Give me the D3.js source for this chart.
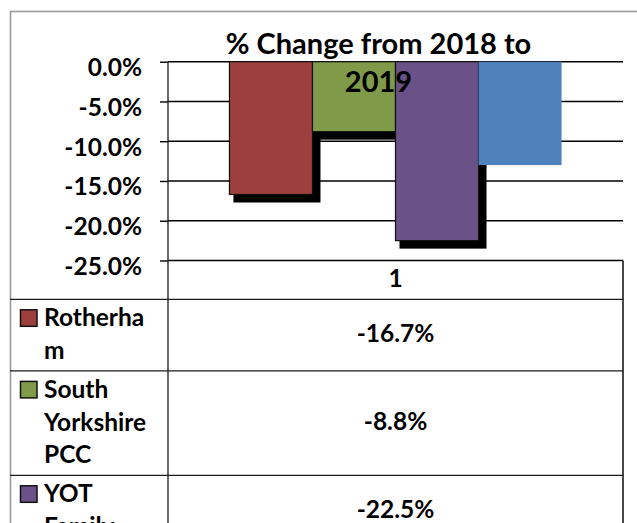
<!DOCTYPE html>
<html><head><meta charset="utf-8">
<script src="https://cdn.jsdelivr.net/npm/d3@7"></script>
<style>
html,body{margin:0;padding:0;background:#fff;overflow:hidden}
text{font-family:Lato,"Open Sans",sans-serif;font-weight:bold;fill:#000}
</style></head>
<body><svg id="c" width="637" height="523"></svg>
<script>
// ---- data ----
const categories = ["1"];
const seriesNames = ["Rotherham", "South Yorkshire PCC", "YOT Family", "National"];
const seriesLabelLines = [["Rotherha", "m"], ["South", "Yorkshire", "PCC"], ["YOT", "Family"], ["National"]];
const seriesValues = [-16.7, -8.8, -22.5, -13.0];
const seriesColors = ["#9D403D", "#7F9A48", "#6A5188", "#4F81BD"];
const yTicks = [0, -5, -10, -15, -20, -25];
const titleLines = ["% Change from 2018 to", "2019"];

const svg = d3.select("#c");
const plotL = 168, plotR = 623, plotT = 61.7, plotB = 260.5;
const fs = 24.5;

const y = d3.scaleLinear().domain([-25, 0]).range([plotB, plotT]);
const xCat = d3.scaleBand().domain(categories).range([plotL, plotR]);
const xSer = d3.scaleBand().domain(seriesNames).range([0, xCat.bandwidth()]).paddingInner(0).paddingOuter(0.74);

// outer border
svg.append("rect").attr("x", 10.5).attr("y", 11.5).attr("width", 660).attr("height", 600)
  .attr("fill", "none").attr("stroke", "#9a9a9a").attr("stroke-width", 1.6);

// gridlines
svg.append("g").selectAll("line").data(yTicks).join("line")
  .attr("x1", plotL).attr("x2", plotR)
  .attr("y1", d => y(d)).attr("y2", d => y(d))
  .attr("stroke", "#000").attr("stroke-width", 1.4);

// y axis
const yAxis = d3.axisLeft(y).tickValues(yTicks).tickSize(8).tickPadding(18)
  .tickFormat(d => d.toFixed(1) + "%");
const ga = svg.append("g").attr("transform", `translate(${plotL},0)`).call(yAxis);
ga.select(".domain").remove();
ga.selectAll(".tick line").attr("stroke", "#000").attr("stroke-width", 1.4);
ga.selectAll(".tick text").attr("font-family", "Lato").attr("font-weight", "bold")
  .attr("font-size", fs).attr("dy", 0).attr("y", 14).attr("fill", "#000");

// bars
const data = seriesNames.map((s, i) => ({ s, v: seriesValues[i], c: seriesColors[i], i }));
const gb = svg.append("g");
data.forEach(d => {
  const bx = xCat(categories[0]) + xSer(d.s);
  const bw = xSer.bandwidth();
  const y0 = y(0), y1 = y(d.v);
  if (d.i < seriesNames.length - 1) {
    gb.append("rect").attr("x", bx + 4).attr("y", y0 + 4).attr("width", bw + 4).attr("height", (y1 - y0) + 4)
      .attr("fill", "#000");
    gb.append("rect").attr("x", bx).attr("y", y0).attr("width", bw).attr("height", y1 - y0)
      .attr("fill", d.c).attr("stroke", "#111").attr("stroke-width", 1.2);
  } else {
    gb.append("rect").attr("x", bx).attr("y", y0).attr("width", bw).attr("height", y1 - y0)
      .attr("fill", d.c);
  }
});

// title
const tcx = 378.5;
svg.append("text").attr("x", tcx).attr("y", 53.5).attr("text-anchor", "middle")
  .attr("font-size", 29).text(titleLines[0]);
svg.append("text").attr("x", tcx).attr("y", 91.5).attr("text-anchor", "middle")
  .attr("font-size", 29).text(titleLines[1]);

// data table
const tableL = 10, headerB = 299.3;
const gt = svg.append("g");
const lineCol = "#1a1a1a";
gt.append("line").attr("x1", plotR).attr("x2", plotR).attr("y1", plotB).attr("y2", 700).attr("stroke", lineCol).attr("stroke-width", 1.6);
gt.append("line").attr("x1", plotL).attr("x2", plotL).attr("y1", plotT).attr("y2", 700).attr("stroke", lineCol).attr("stroke-width", 1.3);
gt.append("line").attr("x1", tableL).attr("x2", plotR).attr("y1", headerB).attr("y2", headerB).attr("stroke", lineCol).attr("stroke-width", 1.3);
gt.append("text").attr("x", xCat(categories[0]) + xCat.bandwidth() / 2).attr("y", 286.5)
  .attr("text-anchor", "middle").attr("font-size", fs).text(categories[0]);

let rowTop = headerB;
data.forEach(d => {
  const lines = seriesLabelLines[d.i];
  const rh = 32.8 * lines.length + 6;
  gt.append("rect").attr("x", 20.5).attr("y", rowTop + 10.5).attr("width", 16.5).attr("height", 16.5)
    .attr("fill", d.c).attr("stroke", "#111").attr("stroke-width", 1.5);
  const t = gt.append("text").attr("x", 44).attr("y", rowTop + 26.8).attr("font-size", fs);
  lines.forEach((ln, k) => t.append("tspan").attr("x", 44).attr("dy", k === 0 ? 0 : 32.8).text(ln));
  gt.append("text").attr("x", xCat(categories[0]) + xCat.bandwidth() / 2).attr("y", rowTop + rh / 2 + 6.5)
    .attr("text-anchor", "middle").attr("font-size", fs).text(d.v.toFixed(1) + "%");
  rowTop += rh;
  gt.append("line").attr("x1", tableL).attr("x2", plotR).attr("y1", rowTop).attr("y2", rowTop)
    .attr("stroke", lineCol).attr("stroke-width", 1.3);
});
</script></body></html>
